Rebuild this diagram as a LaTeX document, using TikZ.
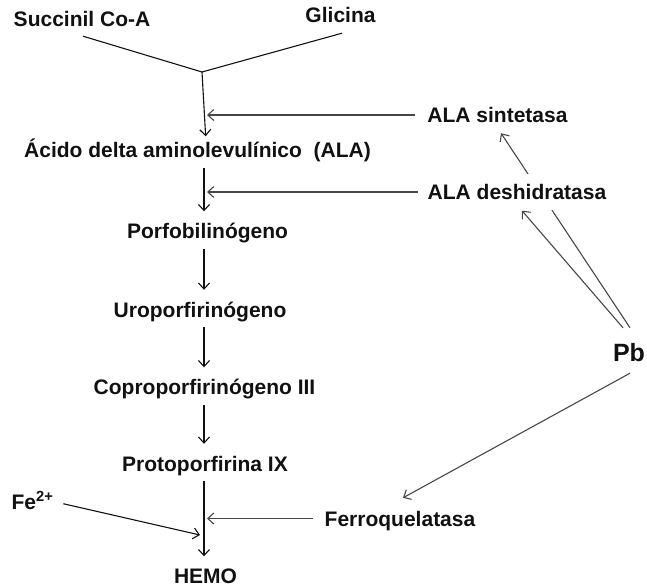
\documentclass[tikz,border=0pt]{standalone}
\usepackage{fontspec}
\setmainfont{Liberation Sans}
\usetikzlibrary{arrows.meta,backgrounds}
\definecolor{ink}{HTML}{111111}
\definecolor{enz}{HTML}{474747}
\tikzset{
  met/.style={font=\fontsize{21}{25}\selectfont\bfseries, text=ink, inner sep=0pt,
    text height=15pt, text depth=0pt},
  lead/.style={met, font=\fontsize{25}{30}\selectfont\bfseries, text height=18pt},
  rxn/.style={-{Straight Barb[length=6pt,width=11pt]}, line width=1.1pt, color=ink,
    shorten <=10pt, shorten >=12pt},
  inh/.style={-{Straight Barb[length=6pt,width=11pt]}, line width=1.1pt, color=enz},
  feed/.style={line width=1.1pt, color=ink},
}

\begin{document}
\begin{tikzpicture}[x=1pt,y=-1pt]
  \useasboundingbox (0,0) rectangle (647,588);
  % metabolites
  \node[met] (sc) at (82,19) {Succinil Co-A};
  \node[met] (gli) at (340.5,15.5) {Glicina};
  \node[met] (ala) at (197.5,150) {Ácido delta aminolevulínico\ \ (ALA)};
  \node[met] (porfo) at (207.5,231) {Porfobilinógeno};
  \node[met] (uro) at (200,309.5) {Uroporfirinógeno};
  \node[met] (copro) at (204.5,387) {Coproporfirinógeno III};
  \node[met] (proto) at (205,463.5) {Protoporfirina IX};
  \node[met] (hemo) at (205.5,576) {HEMO};
  \node[met] (fe) at (32.5,501.5) {Fe\textsuperscript{2+}};
  % enzymes and lead
  \node[met] (sint) at (497.5,115) {ALA sintetasa};
  \node[met,fill=white,inner xsep=10pt,inner ysep=10pt] (desh) at (517,192) {ALA deshidratasa};
  \node[met] (ferro) at (400,518.5) {Ferroquelatasa};
  \node[lead] (pb) at (629,352.5) {Pb};
  \coordinate (junc) at (202,72);
  \coordinate (axis) at (204,0);
  \coordinate (fejoin) at (200,535);
  % condensation
  \draw[feed] ([shift={(1,9.5)}]sc.south) -- (junc);
  \draw[feed] ([shift={(1.5,10)}]gli.south) -- (junc);
  \draw[rxn,shorten <=0pt,shorten >=6pt] (junc) -- ([xshift=4pt]junc |- ala.north);
  % main chain
  \foreach \a/\b in {ala/porfo,porfo/uro,uro/copro,copro/proto,proto/hemo}
    \draw[rxn] (axis |- \a.south) -- (axis |- \b.north);
  \draw[rxn,shorten <=10pt,shorten >=0pt] (fe.east) -- (fejoin);
  % enzymes
  \draw[inh,shorten <=12pt] (sint.west) -- ([xshift=3pt]axis |- sint.west);
  \draw[inh] (desh.west) -- ([xshift=3pt]axis |- desh.west);
  \draw[inh,shorten <=12pt] (ferro.west) -- ([xshift=3pt]axis |- ferro.west);
  % lead
  \begin{scope}[on background layer]
    \draw[inh] ([shift={(1,-15.5)}]pb.north) -- ([shift={(3.5,10.5)}]sint.south);
  \end{scope}
  \draw[inh] ([shift={(-6,-15.5)}]pb.north) -- ([shift={(5,1)}]desh.south);
  \draw[inh] ([shift={(1,11.5)}]pb.south) -- ([shift={(3,-13)}]ferro.north);
\end{tikzpicture}
\end{document}
